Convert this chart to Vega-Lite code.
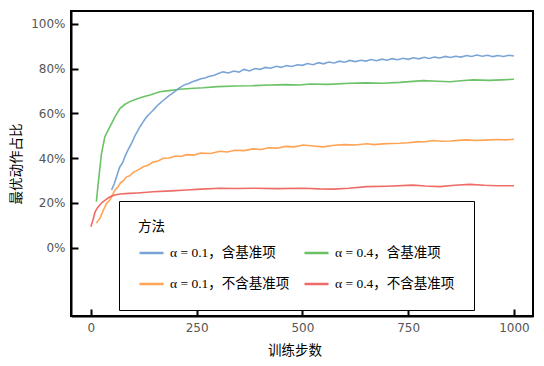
{
  "$schema": "https://vega.github.io/schema/vega-lite/v6.json",
  "width": 462,
  "height": 305,
  "autosize": {"type": "none"},
  "padding": {"left": 71, "top": 11, "right": 11, "bottom": 50},
  "background": "white",
  "config": {
    "view": {"stroke": "black", "strokeWidth": 2},
    "axis": {"grid": false, "labelFont": "DejaVu Sans", "labelFontSize": 12, "labelColor": "#555555", "titleFont": "Noto Sans CJK SC", "titleFontSize": 13.5, "titleFontWeight": "normal", "titleColor": "black"}
  },
  "data": {"values": [
      {"s": "g", "x": 13, "y": 0.206}, {"s": "g", "x": 18, "y": 0.3}, {"s": "g", "x": 25, "y": 0.42}, {"s": "g", "x": 33, "y": 0.496}, {"s": "g", "x": 45, "y": 0.541}, {"s": "g", "x": 57, "y": 0.585}, {"s": "g", "x": 69, "y": 0.623}, {"s": "g", "x": 80, "y": 0.64}, {"s": "g", "x": 92, "y": 0.653}, {"s": "g", "x": 108, "y": 0.665}, {"s": "g", "x": 124, "y": 0.675}, {"s": "g", "x": 140, "y": 0.683}, {"s": "g", "x": 163, "y": 0.697}, {"s": "g", "x": 185, "y": 0.702}, {"s": "g", "x": 210, "y": 0.708}, {"s": "g", "x": 235, "y": 0.712}, {"s": "g", "x": 265, "y": 0.715}, {"s": "g", "x": 300, "y": 0.72}, {"s": "g", "x": 344, "y": 0.723}, {"s": "g", "x": 380, "y": 0.724}, {"s": "g", "x": 423, "y": 0.727}, {"s": "g", "x": 460, "y": 0.729}, {"s": "g", "x": 494, "y": 0.727}, {"s": "g", "x": 518, "y": 0.732}, {"s": "g", "x": 560, "y": 0.73}, {"s": "g", "x": 612, "y": 0.735}, {"s": "g", "x": 650, "y": 0.737}, {"s": "g", "x": 690, "y": 0.735}, {"s": "g", "x": 730, "y": 0.739}, {"s": "g", "x": 785, "y": 0.747}, {"s": "g", "x": 820, "y": 0.744}, {"s": "g", "x": 849, "y": 0.742}, {"s": "g", "x": 875, "y": 0.746}, {"s": "g", "x": 903, "y": 0.75}, {"s": "g", "x": 940, "y": 0.748}, {"s": "g", "x": 970, "y": 0.75}, {"s": "g", "x": 1000, "y": 0.753},
      {"s": "b", "x": 49, "y": 0.258}, {"s": "b", "x": 55, "y": 0.285}, {"s": "b", "x": 61, "y": 0.32}, {"s": "b", "x": 68, "y": 0.36}, {"s": "b", "x": 75, "y": 0.38}, {"s": "b", "x": 82, "y": 0.415}, {"s": "b", "x": 90, "y": 0.445}, {"s": "b", "x": 97, "y": 0.47}, {"s": "b", "x": 104, "y": 0.5}, {"s": "b", "x": 110, "y": 0.52}, {"s": "b", "x": 116, "y": 0.541}, {"s": "b", "x": 122, "y": 0.558}, {"s": "b", "x": 128, "y": 0.575}, {"s": "b", "x": 134, "y": 0.59}, {"s": "b", "x": 140, "y": 0.601}, {"s": "b", "x": 146, "y": 0.612}, {"s": "b", "x": 152, "y": 0.625}, {"s": "b", "x": 158, "y": 0.637}, {"s": "b", "x": 163, "y": 0.645}, {"s": "b", "x": 170, "y": 0.657}, {"s": "b", "x": 177, "y": 0.668}, {"s": "b", "x": 184, "y": 0.679}, {"s": "b", "x": 191, "y": 0.688}, {"s": "b", "x": 198, "y": 0.698}, {"s": "b", "x": 206, "y": 0.71}, {"s": "b", "x": 214, "y": 0.72}, {"s": "b", "x": 222, "y": 0.729}, {"s": "b", "x": 230, "y": 0.733}, {"s": "b", "x": 240, "y": 0.742}, {"s": "b", "x": 250, "y": 0.748}, {"s": "b", "x": 260, "y": 0.755}, {"s": "b", "x": 270, "y": 0.759}, {"s": "b", "x": 280, "y": 0.766}, {"s": "b", "x": 290, "y": 0.77},
      {"s": "b", "x": 300, "y": 0.778}, {"s": "b", "x": 312, "y": 0.786}, {"s": "b", "x": 325, "y": 0.781}, {"s": "b", "x": 338, "y": 0.79}, {"s": "b", "x": 350, "y": 0.785}, {"s": "b", "x": 362, "y": 0.797}, {"s": "b", "x": 375, "y": 0.79}, {"s": "b", "x": 388, "y": 0.801}, {"s": "b", "x": 400, "y": 0.797}, {"s": "b", "x": 412, "y": 0.806}, {"s": "b", "x": 425, "y": 0.802}, {"s": "b", "x": 438, "y": 0.811}, {"s": "b", "x": 450, "y": 0.806}, {"s": "b", "x": 462, "y": 0.814}, {"s": "b", "x": 475, "y": 0.81}, {"s": "b", "x": 488, "y": 0.818}, {"s": "b", "x": 500, "y": 0.815}, {"s": "b", "x": 512, "y": 0.823}, {"s": "b", "x": 525, "y": 0.818}, {"s": "b", "x": 538, "y": 0.827}, {"s": "b", "x": 550, "y": 0.822}, {"s": "b", "x": 562, "y": 0.83}, {"s": "b", "x": 575, "y": 0.826}, {"s": "b", "x": 588, "y": 0.834}, {"s": "b", "x": 600, "y": 0.829}, {"s": "b", "x": 612, "y": 0.837}, {"s": "b", "x": 625, "y": 0.832}, {"s": "b", "x": 638, "y": 0.838}, {"s": "b", "x": 650, "y": 0.834}, {"s": "b", "x": 662, "y": 0.841}, {"s": "b", "x": 675, "y": 0.836}, {"s": "b", "x": 688, "y": 0.843}, {"s": "b", "x": 700, "y": 0.838}, {"s": "b", "x": 712, "y": 0.845}, {"s": "b", "x": 725, "y": 0.84}, {"s": "b", "x": 738, "y": 0.847}, {"s": "b", "x": 750, "y": 0.842}, {"s": "b", "x": 762, "y": 0.849}, {"s": "b", "x": 775, "y": 0.844}, {"s": "b", "x": 788, "y": 0.851}, {"s": "b", "x": 800, "y": 0.846}, {"s": "b", "x": 812, "y": 0.852}, {"s": "b", "x": 825, "y": 0.848}, {"s": "b", "x": 838, "y": 0.855}, {"s": "b", "x": 850, "y": 0.85}, {"s": "b", "x": 862, "y": 0.856}, {"s": "b", "x": 875, "y": 0.852}, {"s": "b", "x": 888, "y": 0.859}, {"s": "b", "x": 900, "y": 0.855}, {"s": "b", "x": 912, "y": 0.861}, {"s": "b", "x": 925, "y": 0.856}, {"s": "b", "x": 938, "y": 0.86}, {"s": "b", "x": 950, "y": 0.854}, {"s": "b", "x": 962, "y": 0.859}, {"s": "b", "x": 975, "y": 0.855}, {"s": "b", "x": 988, "y": 0.86}, {"s": "b", "x": 1000, "y": 0.857},
      {"s": "o", "x": 13, "y": 0.11}, {"s": "o", "x": 21, "y": 0.13}, {"s": "o", "x": 30, "y": 0.17}, {"s": "o", "x": 37, "y": 0.198}, {"s": "o", "x": 45, "y": 0.213}, {"s": "o", "x": 57, "y": 0.258}, {"s": "o", "x": 64, "y": 0.272}, {"s": "o", "x": 70, "y": 0.29}, {"s": "o", "x": 77, "y": 0.3}, {"s": "o", "x": 84, "y": 0.317}, {"s": "o", "x": 92, "y": 0.322}, {"s": "o", "x": 100, "y": 0.337}, {"s": "o", "x": 112, "y": 0.348}, {"s": "o", "x": 124, "y": 0.362}, {"s": "o", "x": 135, "y": 0.369}, {"s": "o", "x": 147, "y": 0.383}, {"s": "o", "x": 159, "y": 0.388}, {"s": "o", "x": 171, "y": 0.4}, {"s": "o", "x": 185, "y": 0.401}, {"s": "o", "x": 200, "y": 0.41}, {"s": "o", "x": 213, "y": 0.408}, {"s": "o", "x": 226, "y": 0.416}, {"s": "o", "x": 243, "y": 0.414}, {"s": "o", "x": 260, "y": 0.423}, {"s": "o", "x": 283, "y": 0.421}, {"s": "o", "x": 305, "y": 0.431}, {"s": "o", "x": 322, "y": 0.428}, {"s": "o", "x": 340, "y": 0.436}, {"s": "o", "x": 362, "y": 0.434}, {"s": "o", "x": 384, "y": 0.442}, {"s": "o", "x": 402, "y": 0.439}, {"s": "o", "x": 420, "y": 0.447}, {"s": "o", "x": 440, "y": 0.445}, {"s": "o", "x": 460, "y": 0.453}, {"s": "o", "x": 480, "y": 0.451}, {"s": "o", "x": 502, "y": 0.459}, {"s": "o", "x": 525, "y": 0.455}, {"s": "o", "x": 549, "y": 0.451}, {"s": "o", "x": 575, "y": 0.458}, {"s": "o", "x": 600, "y": 0.461}, {"s": "o", "x": 625, "y": 0.459}, {"s": "o", "x": 652, "y": 0.465}, {"s": "o", "x": 670, "y": 0.461}, {"s": "o", "x": 690, "y": 0.464}, {"s": "o", "x": 710, "y": 0.466}, {"s": "o", "x": 730, "y": 0.467}, {"s": "o", "x": 750, "y": 0.469}, {"s": "o", "x": 770, "y": 0.473}, {"s": "o", "x": 790, "y": 0.474}, {"s": "o", "x": 809, "y": 0.479}, {"s": "o", "x": 830, "y": 0.476}, {"s": "o", "x": 850, "y": 0.477}, {"s": "o", "x": 870, "y": 0.48}, {"s": "o", "x": 888, "y": 0.482}, {"s": "o", "x": 910, "y": 0.479}, {"s": "o", "x": 930, "y": 0.481}, {"s": "o", "x": 960, "y": 0.484}, {"s": "o", "x": 980, "y": 0.482}, {"s": "o", "x": 1000, "y": 0.485},
      {"s": "r", "x": 0, "y": 0.094}, {"s": "r", "x": 5, "y": 0.125}, {"s": "r", "x": 10, "y": 0.161}, {"s": "r", "x": 15, "y": 0.177}, {"s": "r", "x": 21, "y": 0.191}, {"s": "r", "x": 27, "y": 0.203}, {"s": "r", "x": 33, "y": 0.212}, {"s": "r", "x": 45, "y": 0.228}, {"s": "r", "x": 57, "y": 0.236}, {"s": "r", "x": 69, "y": 0.24}, {"s": "r", "x": 90, "y": 0.243}, {"s": "r", "x": 110, "y": 0.245}, {"s": "r", "x": 147, "y": 0.25}, {"s": "r", "x": 190, "y": 0.254}, {"s": "r", "x": 226, "y": 0.258}, {"s": "r", "x": 260, "y": 0.262}, {"s": "r", "x": 305, "y": 0.266}, {"s": "r", "x": 345, "y": 0.265}, {"s": "r", "x": 384, "y": 0.266}, {"s": "r", "x": 440, "y": 0.264}, {"s": "r", "x": 502, "y": 0.266}, {"s": "r", "x": 540, "y": 0.263}, {"s": "r", "x": 573, "y": 0.262}, {"s": "r", "x": 610, "y": 0.266}, {"s": "r", "x": 652, "y": 0.273}, {"s": "r", "x": 700, "y": 0.275}, {"s": "r", "x": 761, "y": 0.28}, {"s": "r", "x": 790, "y": 0.276}, {"s": "r", "x": 825, "y": 0.273}, {"s": "r", "x": 860, "y": 0.279}, {"s": "r", "x": 896, "y": 0.283}, {"s": "r", "x": 930, "y": 0.279}, {"s": "r", "x": 960, "y": 0.277}, {"s": "r", "x": 1000, "y": 0.277}
  ]},
  "mark": {"type": "line", "strokeWidth": 1.6, "opacity": 0.9},
  "encoding": {
    "x": {"field": "x", "type": "quantitative", "scale": {"domain": [-47, 1045], "nice": false, "zero": false},
      "axis": {"values": [0, 250, 500, 750, 1000], "format": "d", "domainColor": "black", "domainWidth": 2, "tickColor": "black", "tickWidth": 2, "tickSize": -7, "labelPadding": 13, "title": "训练步数", "titleX": 223.5, "titleY": 27}},
    "y": {"field": "y", "type": "quantitative", "scale": {"domain": [-0.305, 1.058], "nice": false, "zero": false},
      "axis": {"values": [0, 0.2, 0.4, 0.6, 0.8, 1.0], "format": ".0%", "domainColor": "black", "domainWidth": 2, "tickColor": "black", "tickWidth": 2, "tickSize": -7, "labelPadding": 13, "title": "最优动作占比", "titleX": -48, "titleY": 152.5}},
    "color": {"field": "s", "type": "nominal",
      "scale": {"domain": ["b", "g", "o", "r"], "range": ["#6b9bd2", "#5cbb55", "#ff9a42", "#ec5c57"]},
      "legend": {"title": "方法", "orient": "none", "legendX": 48, "legendY": 190, "columns": 2, "direction": "horizontal",
        "labelExpr": "datum.value == 'b' ? 'α = 0.1，含基准项' : datum.value == 'g' ? 'α = 0.4，含基准项' : datum.value == 'o' ? 'α = 0.1，不含基准项' : 'α = 0.4，不含基准项'",
        "symbolType": "stroke", "symbolSize": 576, "symbolStrokeWidth": 2.5, "labelOffset": 5,
        "labelFont": "Liberation Serif, Noto Sans CJK SC", "labelFontSize": 13.5, "labelColor": "black", "labelLimit": 300,
        "titleFont": "Noto Sans CJK SC", "titleFontSize": 13.5, "titleFontWeight": "normal", "titleColor": "black", "titlePadding": 6,
        "rowPadding": 11, "columnPadding": 9, "padding": 19, "strokeColor": "black", "fillColor": "white", "cornerRadius": 0}}
  }
}
